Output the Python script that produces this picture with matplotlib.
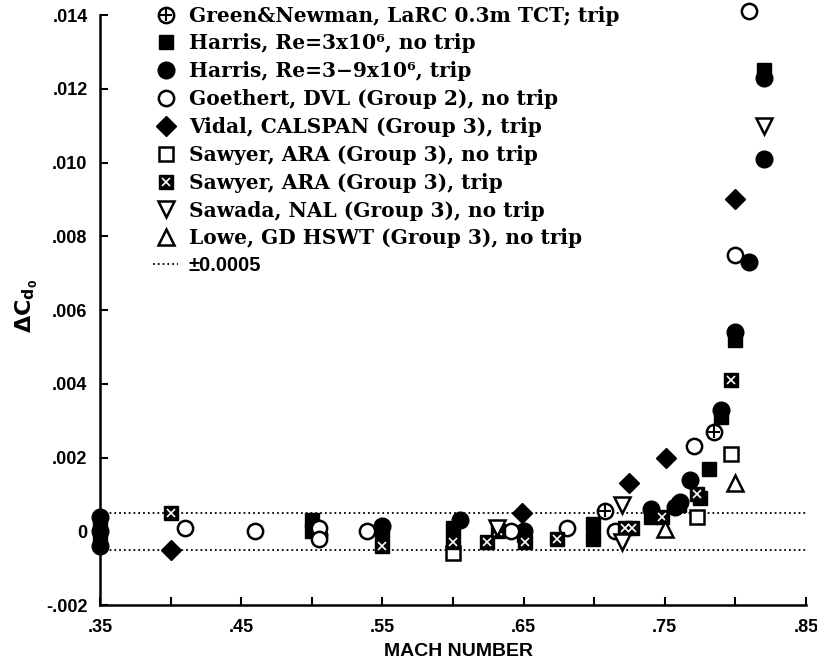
import matplotlib.pyplot as plt
from matplotlib.lines import Line2D
import numpy as np

plt.rcParams['mathtext.default'] = 'bf'
plt.rcParams['mathtext.fontset'] = 'dejavusans'

# Green&Newman, LaRC 0.3m TCT, trip
gn_m = [0.708, 0.785]
gn_cd = [0.00055, 0.0027]

# Harris, Re=3x10^6, no trip (filled square)
hs_m = [0.35, 0.35, 0.50, 0.50, 0.55, 0.60, 0.65, 0.699, 0.699, 0.74, 0.76, 0.775, 0.781, 0.79, 0.80, 0.82]
hs_cd = [0.0002, -0.0002, 0.0003, 0.0, 0.0, 0.0001, -0.0001, 0.0002, -0.0002, 0.0004, 0.0007, 0.0009, 0.0017, 0.0031, 0.0052, 0.0125]

# Harris, Re=3-9x10^6, trip (filled circle)
hc_m = [0.35, 0.35, 0.35, 0.505, 0.55, 0.605, 0.65, 0.74, 0.757, 0.761, 0.768, 0.79, 0.80, 0.81, 0.82, 0.82]
hc_cd = [0.0004, 0.0, -0.0004, -0.0001, 0.00015, 0.0003, 0.0, 0.0006, 0.00065, 0.0008, 0.0014, 0.0033, 0.0054, 0.0073, 0.0101, 0.0123]

# Goethert, DVL (Group 2), no trip (open circle)
go_m = [0.41, 0.46, 0.505, 0.505, 0.539, 0.641, 0.681, 0.715, 0.771, 0.80, 0.81]
go_cd = [0.0001, 0.0, 0.0001, -0.0002, 0.0, 0.0, 0.0001, 0.0, 0.0023, 0.0075, 0.0141]

# Vidal, CALSPAN (Group 3), trip (filled diamond)
vi_m = [0.40, 0.649, 0.725, 0.751, 0.80]
vi_cd = [-0.0005, 0.0005, 0.0013, 0.0020, 0.0090]

# Sawyer, ARA (Group 3), no trip (open square)
sn_m = [0.60, 0.773, 0.797]
sn_cd = [-0.0006, 0.0004, 0.0021]

# Sawyer, ARA (Group 3), trip (boxed x)
st_m = [0.40, 0.55, 0.60, 0.624, 0.632, 0.651, 0.674, 0.722, 0.727, 0.748, 0.773, 0.797]
st_cd = [0.0005, -0.0004, -0.0003, -0.0003, 0.0, -0.0003, -0.0002, 0.0001, 0.0001, 0.0004, 0.0010, 0.0041]

# Sawada, NAL (Group 3), no trip (open down triangle)
sa_m = [0.631, 0.72, 0.72, 0.82]
sa_cd = [0.0001, 0.0007, -0.0003, 0.0110]

# Lowe, GD HSWT (Group 3), no trip (open up triangle)
lo_m = [0.75, 0.80]
lo_cd = [0.00005, 0.0013]

band = 0.0005

xticks = [0.35, 0.45, 0.55, 0.65, 0.75, 0.85]
xlabels = ['.35', '.45', '.55', '.65', '.75', '.85']
yticks = [-0.002, 0, 0.002, 0.004, 0.006, 0.008, 0.010, 0.012, 0.014]
ylabels = ['-.002', '0', '.002', '.004', '.006', '.008', '.010', '.012', '.014']

fig = plt.figure(figsize=(8.17, 6.62), dpi=100)
ax = fig.add_axes([0.1224, 0.0861, 0.8641, 0.891])

ms = 11
mew = 1.8
kw = dict(ls='none', clip_on=False, zorder=3)

ax.axhline(band, color='black', ls=':', lw=1.3, zorder=1)
ax.axhline(-band, color='black', ls=':', lw=1.3, zorder=1)

h_gn1, = ax.plot(gn_m, gn_cd, marker='o', ms=ms, mfc='white', mec='black', mew=mew, **kw)
h_gn2, = ax.plot(gn_m, gn_cd, marker='+', ms=ms * 0.75, mec='black', mew=1.5, **kw)
h_hs, = ax.plot(hs_m, hs_cd, marker='s', ms=ms - 0.5, mfc='black', mec='black', **kw)
h_hc, = ax.plot(hc_m, hc_cd, marker='o', ms=ms + 1, mfc='black', mec='black', **kw)
h_go, = ax.plot(go_m, go_cd, marker='o', ms=ms, mfc='white', mec='black', mew=mew, **kw)
h_vi, = ax.plot(vi_m, vi_cd, marker='D', ms=ms * 0.9, mfc='black', mec='black', **kw)
h_sn, = ax.plot(sn_m, sn_cd, marker='s', ms=ms - 1, mfc='white', mec='black', mew=mew, **kw)
h_st1, = ax.plot(st_m, st_cd, marker='s', ms=ms - 0.5, mfc='black', mec='black', **kw)
h_st2, = ax.plot(st_m, st_cd, marker='x', ms=ms * 0.5, mec='white', mew=1.2, **kw)
h_sa, = ax.plot(sa_m, sa_cd, marker='v', ms=ms + 0.5, mfc='white', mec='black', mew=mew, **kw)
h_lo, = ax.plot(lo_m, lo_cd, marker='^', ms=ms + 0.5, mfc='white', mec='black', mew=mew, **kw)
h_band = Line2D([], [], color='black', ls=':', lw=1.3)

handles = [(h_gn1, h_gn2), h_hs, h_hc, h_go, h_vi, h_sn, (h_st1, h_st2), h_sa, h_lo, h_band]
labels = ['Green&Newman, LaRC 0.3m TCT; trip',
          'Harris, Re=3x10\u2076, no trip',
          'Harris, Re=3\u22129x10\u2076, trip',
          'Goethert, DVL (Group 2), no trip',
          'Vidal, CALSPAN (Group 3), trip',
          'Sawyer, ARA (Group 3), no trip',
          'Sawyer, ARA (Group 3), trip',
          'Sawada, NAL (Group 3), no trip',
          'Lowe, GD HSWT (Group 3), no trip',
          '\u00b10.0005']
leg = ax.legend(handles, labels, loc='upper left', bbox_to_anchor=(0.05, 1.047),
                frameon=False, handlelength=1.2, handletextpad=0.55, labelspacing=0.39,
                prop=dict(family='DejaVu Serif', weight='bold', size=14.5))
leg.set_zorder(5)
leg.get_texts()[-1].set_fontfamily('Liberation Sans')

ax.set_xlim(0.35, 0.85)
ax.set_ylim(-0.002, 0.014)
ax.set_xticks(xticks)
ax.set_xticklabels(xlabels)
ax.set_xticks([0.40, 0.50, 0.60, 0.70, 0.80], minor=True)
ax.set_yticks(yticks)
ax.set_yticklabels(ylabels)
ax.tick_params(which='both', direction='in', length=6, width=1.5)
ax.tick_params(axis='x', pad=10)
ax.tick_params(axis='y', pad=9)
for lab in ax.get_xticklabels() + ax.get_yticklabels():
    lab.set_fontfamily('Liberation Sans')
    lab.set_fontweight('bold')
    lab.set_fontsize(13)

ax.spines['top'].set_visible(False)
ax.spines['right'].set_visible(False)
ax.spines['left'].set_linewidth(1.8)
ax.spines['bottom'].set_linewidth(1.8)

ax.set_xlabel('MACH NUMBER', fontfamily='Liberation Sans', fontweight='bold', fontsize=14)
ax.xaxis.set_label_coords(0.508, -0.065)
ax.set_ylabel(r'$\Delta C_{d_0}$', fontsize=16)
ax.yaxis.set_label_coords(-0.085, 0.507)

fig.savefig('out.png', dpi=100)
